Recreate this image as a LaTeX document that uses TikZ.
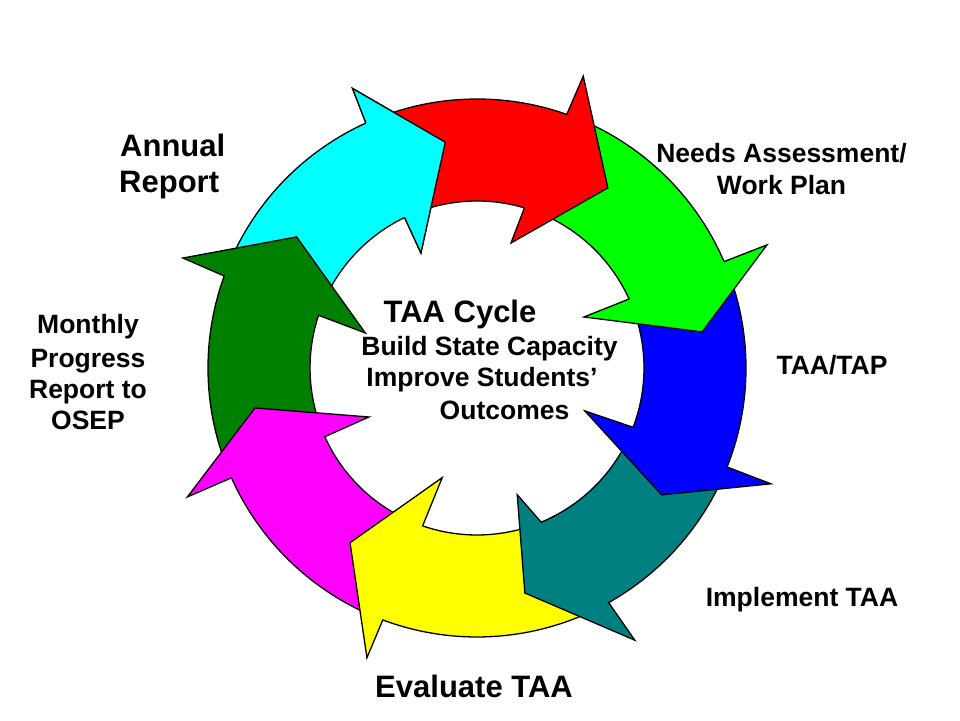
\documentclass[tikz,border=0pt]{standalone}
\usepackage{fontspec}
\setmainfont{Liberation Sans}
\definecolor{dkgreen}{RGB}{0,128,0}
\definecolor{tealc}{RGB}{0,128,128}
\definecolor{cyanc}{RGB}{0,255,255}
\definecolor{magc}{RGB}{255,0,255}
\definecolor{yelc}{RGB}{255,255,0}
\definecolor{redc}{RGB}{255,0,0}
\definecolor{grnc}{RGB}{0,255,0}
\definecolor{bluc}{RGB}{0,0,255}
\begin{document}
\begin{tikzpicture}[x=1pt,y=1pt,
  ring/.style={draw=black, line width=1.3pt, line join=miter},
  lbl/.style={inner sep=0pt, font=\bfseries\fontsize{26.5}{30}\selectfont},
  biglbl/.style={inner sep=0pt, font=\bfseries\fontsize{31}{36}\selectfont}]
\useasboundingbox (0,0) rectangle (960,720);
\fill[white] (0,0) rectangle (960,720);
\coordinate (C) at (477,352);
\def\Ro{269}\def\Ri{167}
\foreach \cl/\tO/\tI/\sO/\bO/\rO/\aT/\rT/\bI/\rI/\sI in {
 cyanc/-203/-201.4/-245.6/-246/306/-262/228/-244/128/-244.3,
 dkgreen/-158.9/-158.7/-200/-200.5/314/-216/223/-197.4/117/-198.4,
 magc/-113.5/-112/-155.9/-156/317/-169.8/225.6/-155.6/118.6/-155.7,
 yelc/-63.7/-70.4/-110.5/-110.8/310/-126/216/-107.6/115/-109,
 tealc/-24.6/-23.8/-60.7/-59.9/314.6/-78/230/-72.4/133/-67.4,
 bluc/20.3/21.4/-21.6/-21.5/316/-34.5/224/-21.7/116/-20.8,
 grnc/67.5/70.5/23.3/23/315/9.1/228/25.5/118.5/24.4,
 redc/111.4/112.7/70.5/70/310.6/54/222.6/74.8/129.5/73.5}
{
 \filldraw[ring, fill=\cl] ([shift={(C)}]\tO:\Ro) arc[start angle=\tO, end angle=\sO, radius=\Ro]
   -- ([shift={(C)}]\bO:\rO) -- ([shift={(C)}]\aT:\rT) -- ([shift={(C)}]\bI:\rI)
   -- ([shift={(C)}]\sI:\Ri) arc[start angle=\sI, end angle=\tI, radius=\Ri] -- cycle;
}
% cyan head back on top of the red tail
\fill[cyanc] ([shift={(C)}]-245.6:\Ro) -- ([shift={(C)}]-246:306) -- ([shift={(C)}]-262:228)
   -- ([shift={(C)}]-244:128) -- ([shift={(C)}]-244.3:\Ri) -- cycle;
\draw[ring] ([shift={(C)}]-245.6:\Ro) -- ([shift={(C)}]-246:306) -- ([shift={(C)}]-262:228)
   -- ([shift={(C)}]-244:128) -- ([shift={(C)}]-244.3:\Ri);
% labels
\node[biglbl, anchor=base] (cycle) at (460,397) {TAA Cycle};
\node[lbl, anchor=base] (build) at (489.5,364) {Build State Capacity};
\node[lbl, anchor=base] (improve) at (482,333) {Improve Students’};
\node[lbl, anchor=base] (outc) at (504.5,300) {Outcomes};
\node[biglbl, anchor=base west] (annual) at (120,563) {Annual};
\node[biglbl, anchor=base west] (report) at (119,527) {Report};
\node[lbl, anchor=base] (m1) at (88,386) {Monthly};
\node[lbl, anchor=base] (m2) at (88,352) {Progress};
\node[lbl, anchor=base] (m3) at (88,321) {Report to};
\node[lbl, anchor=base] (m4) at (88,290) {OSEP};
\node[lbl, anchor=base] (needs) at (781.5,557) {Needs Assessment/};
\node[lbl, anchor=base] (work) at (781.5,525) {Work Plan};
\node[lbl, anchor=base] (taatap) at (832,345) {TAA/TAP};
\node[lbl, anchor=base] (impl) at (802,114) {Implement TAA};
\node[biglbl, anchor=base] (eval) at (474,23) {Evaluate TAA};
\end{tikzpicture}
\end{document}
